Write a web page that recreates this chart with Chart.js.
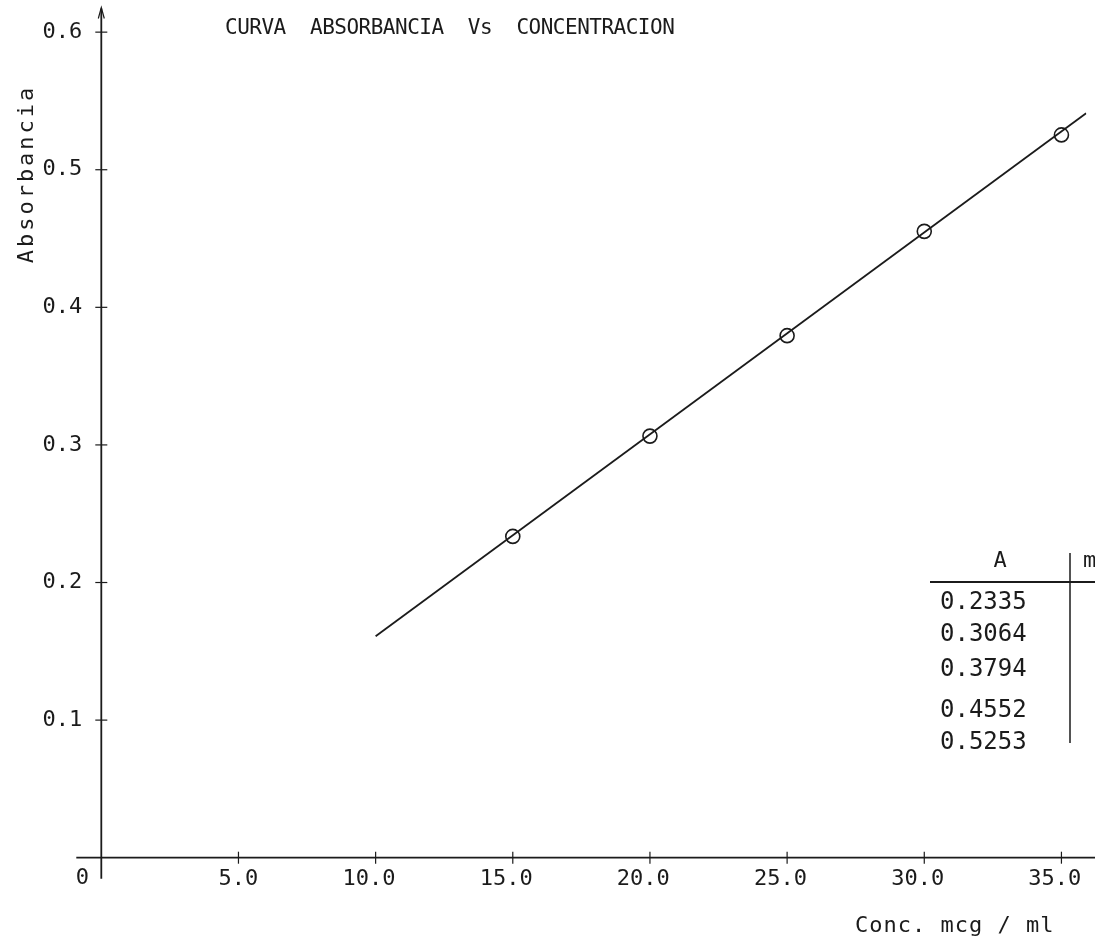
<!DOCTYPE html>
<html>
<head>
<meta charset="utf-8">
<title>Curva absorbancia vs concentracion</title>
<script src="https://cdn.jsdelivr.net/npm/chart.js@4.4.1/dist/chart.umd.min.js"></script>
<style>
  html, body { margin: 0; padding: 0; background: #fff; }
  canvas { display: block; }
</style>
</head>
<body>
<canvas id="chart" width="1095" height="941"></canvas>
<script>
// standards (conc. mcg/ml vs absorbance)
const concentrations = [15.0, 20.0, 25.0, 30.0, 35.0];
const absorbances = [0.2335, 0.3064, 0.3794, 0.4552, 0.5253];

// hand drawn fit line, end points
const fitConc = [10.0, 35.9];
const fitAbs = [0.161, 0.541];

const xTickValues = [0, 5, 10, 15, 20, 25, 30, 35];
const yTickValues = [0.1, 0.2, 0.3, 0.4, 0.5, 0.6];
const tableHeader = ['A', 'm'];

const INK = '#1b1b1b';
const MONO = "'DejaVu Sans Mono', 'Liberation Mono', monospace";

const font = (size) => `${size}px ${MONO}`;

// axes drawn through the origin like the paper plot, plus titles and the value table
const paperPlot = {
    id: 'paperPlot',
    beforeDatasetsDraw(chart) {
        const { ctx } = chart;
        const xs = chart.scales.x;
        const ys = chart.scales.y;
        const x0 = xs.getPixelForValue(0);
        const y0 = ys.getPixelForValue(0);
        const yTop = ys.getPixelForValue(ys.max);

        ctx.save();
        ctx.strokeStyle = INK;
        ctx.lineWidth = 1.8;

        ctx.beginPath();
        ctx.moveTo(x0 - 25, y0);
        ctx.lineTo(chart.width, y0);
        ctx.stroke();

        ctx.beginPath();
        ctx.moveTo(x0, y0 + 21);
        ctx.lineTo(x0, yTop - 3);
        ctx.stroke();

        // arrow head on the y axis
        ctx.lineWidth = 1.2;
        ctx.beginPath();
        ctx.moveTo(x0 - 3, yTop + 7);
        ctx.lineTo(x0, yTop - 4);
        ctx.lineTo(x0 + 3, yTop + 7);
        ctx.stroke();

        // small ticks crossing the axes
        xTickValues.filter(v => v !== 0).forEach(v => {
            const px = xs.getPixelForValue(v);
            ctx.beginPath();
            ctx.moveTo(px, y0 - 6);
            ctx.lineTo(px, y0 + 6);
            ctx.stroke();
        });
        yTickValues.forEach(v => {
            const py = ys.getPixelForValue(v);
            ctx.beginPath();
            ctx.moveTo(x0 - 6, py);
            ctx.lineTo(x0 + 6, py);
            ctx.stroke();
        });
        ctx.restore();
    },
    afterDraw(chart) {
        const { ctx } = chart;
        const xs = chart.scales.x;
        const ys = chart.scales.y;
        const x0 = xs.getPixelForValue(0);
        const y0 = ys.getPixelForValue(0);

        ctx.save();
        ctx.fillStyle = INK;
        ctx.strokeStyle = INK;

        // origin label
        ctx.font = font(22);
        ctx.textAlign = 'center';
        ctx.textBaseline = 'middle';
        ctx.fillText('0', x0 - 19, y0 + 21);

        // title
        ctx.textAlign = 'left';
        ctx.textBaseline = 'alphabetic';
        ctx.font = font(21);
        ctx.letterSpacing = '-0.5px';
        ctx.fillText('CURVA  ABSORBANCIA  Vs  CONCENTRACION', 225, 34);

        // x axis title
        ctx.font = font(22);
        ctx.letterSpacing = '1px';
        ctx.fillText('Conc. mcg / ml', 855, 932);

        // y axis title
        ctx.save();
        ctx.translate(33, 174);
        ctx.rotate(-Math.PI / 2);
        ctx.textAlign = 'center';
        ctx.letterSpacing = '3px';
        ctx.fillText('Absorbancia', 0, 0);
        ctx.restore();

        // value table
        ctx.letterSpacing = '0px';
        ctx.lineWidth = 1.8;
        ctx.beginPath();
        ctx.moveTo(930, 582);
        ctx.lineTo(chart.width, 582);
        ctx.stroke();
        ctx.lineWidth = 1.5;
        ctx.beginPath();
        ctx.moveTo(1070, 553);
        ctx.lineTo(1070, 743);
        ctx.stroke();

        ctx.font = font(22);
        ctx.textAlign = 'center';
        ctx.fillText(tableHeader[0], 1000, 567);
        ctx.textAlign = 'left';
        ctx.fillText(tableHeader[1], 1083, 567);

        const rowBaselines = [609, 641, 676, 717, 749];
        ctx.font = font(24);
        absorbances.forEach((v, i) => {
            ctx.fillText(v.toFixed(4), 940, rowBaselines[i]);
        });
        ctx.restore();
    },
};

const ctx = document.getElementById('chart');

new Chart(ctx, {
    type: 'scatter',
    data: {
        datasets: [
            {
                label: 'Patrones',
                data: concentrations.map((c, i) => ({ x: c, y: absorbances[i] })),
                pointStyle: 'circle',
                pointRadius: 7,
                pointBorderWidth: 1.6,
                borderColor: INK,
                backgroundColor: 'rgba(0,0,0,0)',
                showLine: false,
                order: 1,
            },
            {
                label: 'Recta',
                data: fitConc.map((c, i) => ({ x: c, y: fitAbs[i] })),
                showLine: true,
                pointRadius: 0,
                borderColor: INK,
                borderWidth: 1.8,
                order: 2,
            },
        ],
    },
    options: {
        responsive: false,
        animation: false,
        devicePixelRatio: 1,
        layout: { padding: { top: 11.5, right: 0, left: 0, bottom: 0 } },
        plugins: {
            legend: { display: false },
            tooltip: { enabled: false },
            title: { display: false },
        },
        scales: {
            x: {
                type: 'linear',
                min: 0,
                max: 35.91,
                afterBuildTicks: (s) => { s.ticks = xTickValues.map(v => ({ value: v })); },
                afterFit: (s) => {
                    s.height = 83.3;
                    s.paddingLeft = 0;
                    s.paddingRight = 0;
                },
                grid: { display: false, drawTicks: false, tickLength: 0 },
                border: { display: false },
                ticks: {
                    autoSkip: false,
                    maxRotation: 0,
                    padding: 8,
                    color: INK,
                    font: { family: MONO, size: 22 },
                    // decimal point sits under the tick
                    callback: (v) => v === 0 ? '' : v.toFixed(1) + (v >= 10 ? ' ' : ''),
                },
            },
            y: {
                type: 'linear',
                min: 0,
                max: 0.615,
                afterBuildTicks: (s) => { s.ticks = yTickValues.map(v => ({ value: v })); },
                afterFit: (s) => {
                    s.width = 101.3;
                    s.paddingTop = 0;
                    s.paddingBottom = 0;
                },
                grid: { display: false, drawTicks: false, tickLength: 0 },
                border: { display: false },
                ticks: {
                    padding: 19,
                    color: INK,
                    font: { family: MONO, size: 22 },
                    callback: (v) => v.toFixed(1),
                },
            },
        },
    },
    plugins: [paperPlot],
});
</script>
</body>
</html>
